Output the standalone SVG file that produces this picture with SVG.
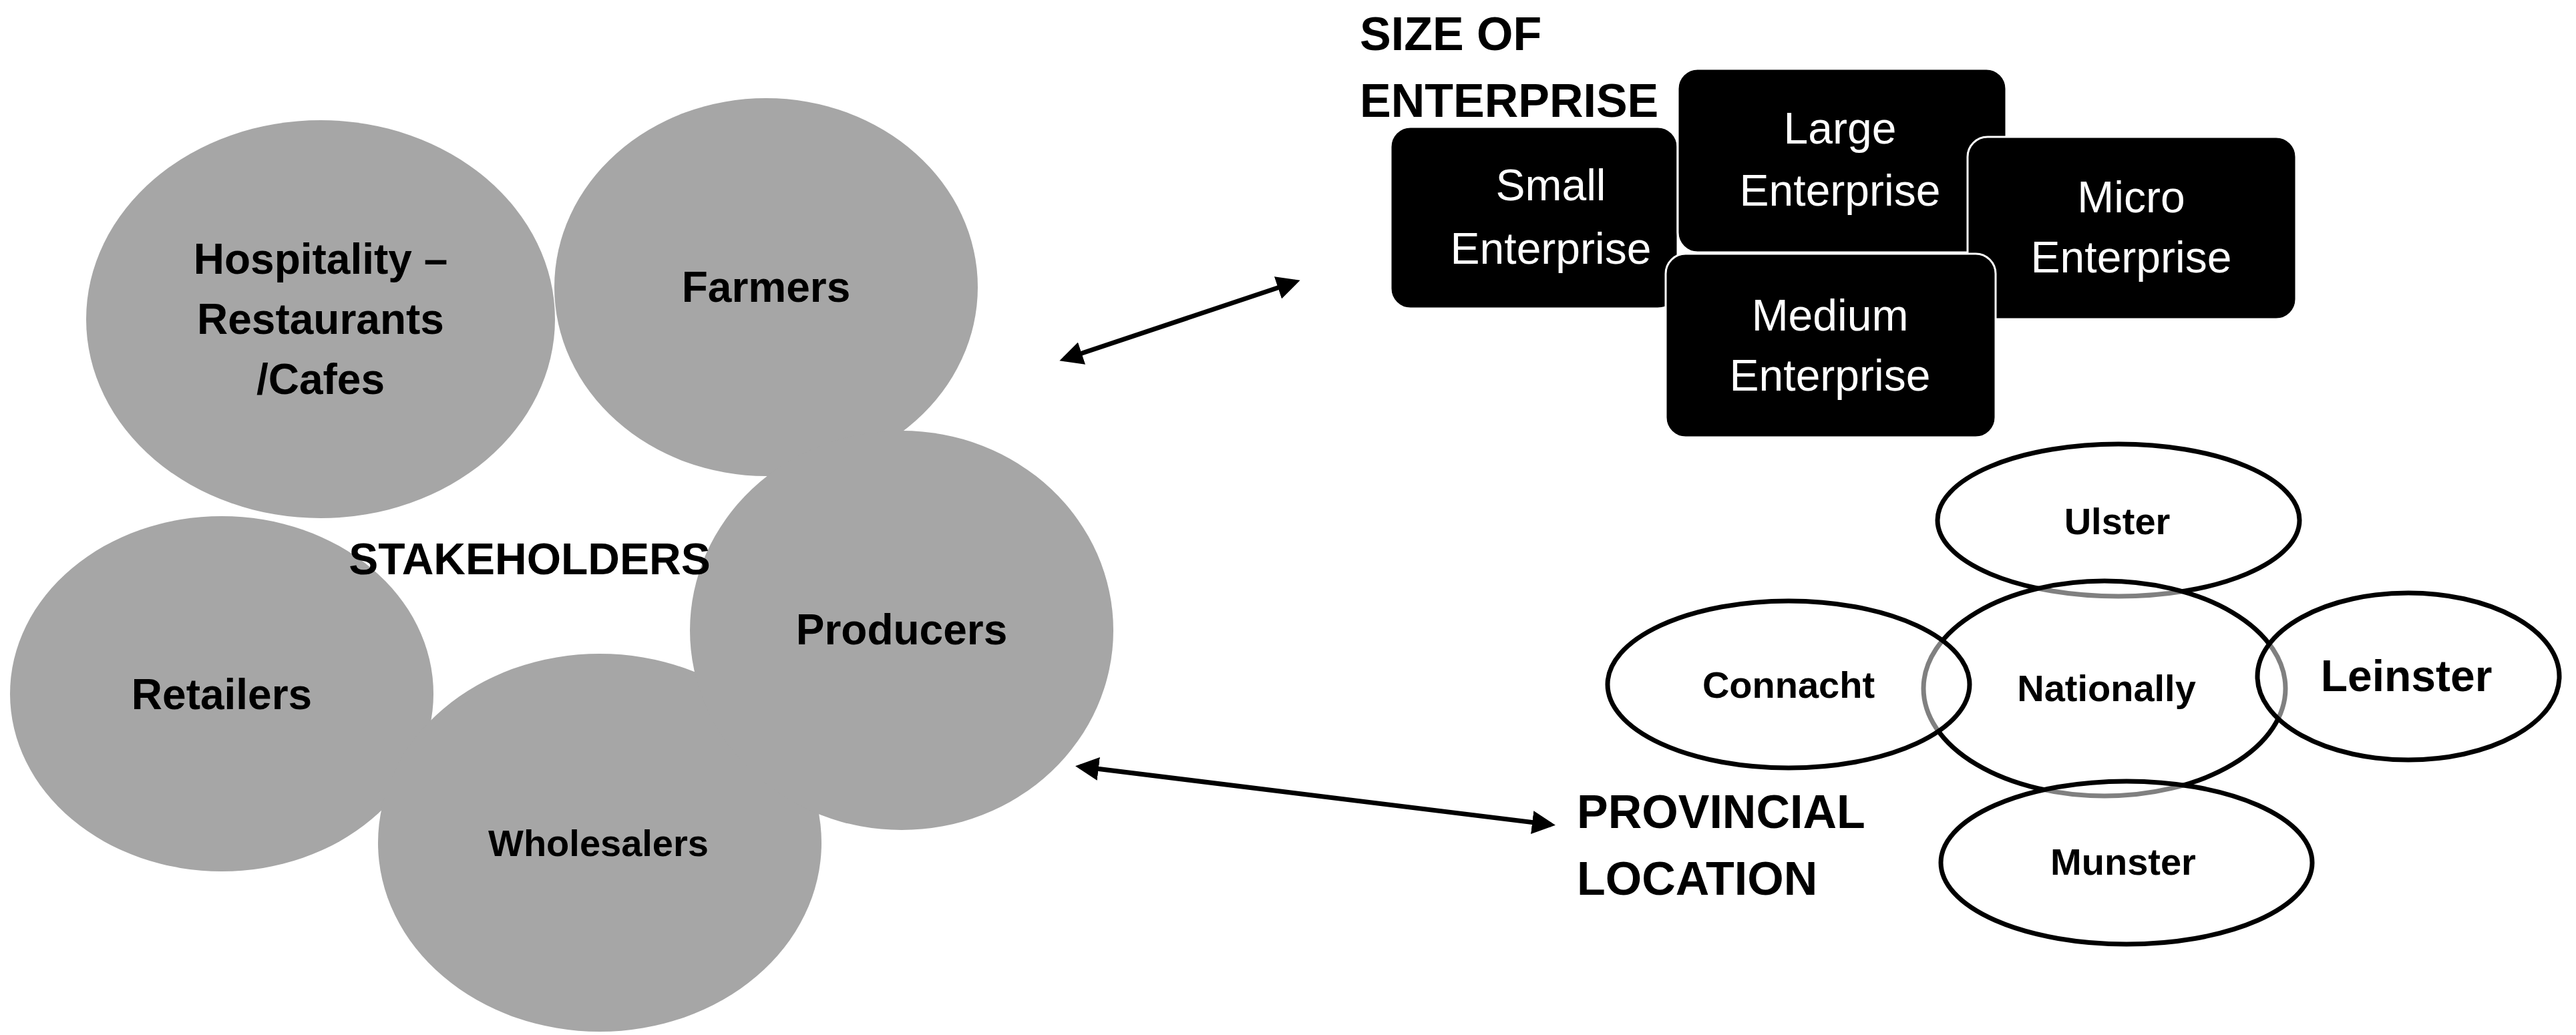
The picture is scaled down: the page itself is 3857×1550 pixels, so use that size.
<svg xmlns="http://www.w3.org/2000/svg" width="3857" height="1550" viewBox="0 0 3857 1550">
<style>
.g{fill:#a6a6a6}
.t{font-family:"Liberation Sans",Arial,sans-serif;font-weight:bold;fill:#000;text-anchor:middle}
.w{font-family:"Liberation Sans",Arial,sans-serif;fill:#fff;text-anchor:middle;font-size:66px}
.b{fill:#000;stroke:#fff;stroke-width:3}
.e{fill:#fff;fill-opacity:0.5;stroke:#000;stroke-width:7}
.h{font-family:"Liberation Sans",Arial,sans-serif;font-weight:bold;fill:#000;font-size:70px}
</style>
<defs>
<marker id="a" viewBox="0 0 10 10" refX="8" refY="5" markerWidth="5" markerHeight="5" orient="auto-start-reverse"><path d="M0,0 L10,5 L0,10 z" fill="#000"/></marker>
</defs>
<rect width="3857" height="1550" fill="#fff"/>
<g id="hospitality"><ellipse class="g" cx="480" cy="478" rx="351" ry="298"/><text class="t" font-size="64" x="480" y="410">Hospitality –</text><text class="t" font-size="64" x="480" y="500">Restaurants</text><text class="t" font-size="64" x="480" y="590">/Cafes</text></g>
<g id="farmers"><ellipse class="g" cx="1147" cy="430" rx="317" ry="283"/><text class="t" font-size="64" x="1147" y="452">Farmers</text></g>
<g id="retailers"><ellipse class="g" cx="332" cy="1039" rx="317" ry="266"/><text class="t" font-size="64" x="332" y="1062">Retailers</text></g>
<g id="wholesalers"><ellipse class="g" cx="898" cy="1262" rx="332" ry="283"/><text class="t" font-size="56" x="896" y="1282">Wholesalers</text></g>
<g id="producers"><ellipse class="g" cx="1350" cy="944" rx="317" ry="299"/><text class="t" font-size="64" x="1350" y="965">Producers</text></g>
<g id="stakeholders"><text class="t" font-size="66" x="793" y="860">STAKEHOLDERS</text></g>
<g id="connectors" stroke="#000" stroke-width="7" fill="none">
<line x1="1593" y1="538" x2="1940" y2="422" marker-start="url(#a)" marker-end="url(#a)"/>
<line x1="1617" y1="1148" x2="2322" y2="1235" marker-start="url(#a)" marker-end="url(#a)"/>
</g>
<g id="size-title"><text class="h" x="2036" y="75">SIZE OF</text><text class="h" x="2036" y="175">ENTERPRISE</text></g>
<g id="small"><rect class="b" x="2082" y="190" width="430" height="272" rx="30"/><text class="w" x="2322" y="300">Small</text><text class="w" x="2322" y="395">Enterprise</text></g>
<g id="large"><rect class="b" x="2512" y="103" width="492" height="275" rx="30"/><text class="w" x="2755" y="215">Large</text><text class="w" x="2755" y="308">Enterprise</text></g>
<g id="micro"><rect class="b" x="2946" y="205" width="492" height="273" rx="30"/><text class="w" x="3191" y="318">Micro</text><text class="w" x="3191" y="408">Enterprise</text></g>
<g id="medium"><rect class="b" x="2494" y="380" width="494" height="275" rx="30"/><text class="w" x="2740" y="495">Medium</text><text class="w" x="2740" y="585">Enterprise</text></g>
<g id="ulster"><ellipse class="e" cx="3172" cy="779" rx="271" ry="114"/><text class="t" font-size="56" x="3170" y="800">Ulster</text></g>
<g id="nationally"><ellipse class="e" cx="3151" cy="1031" rx="271" ry="161"/><text class="t" font-size="56" x="3154" y="1050">Nationally</text></g>
<g id="connacht"><ellipse class="e" cx="2678" cy="1025" rx="271" ry="125"/><text class="t" font-size="56" x="2678" y="1045">Connacht</text></g>
<g id="leinster"><ellipse class="e" cx="3606" cy="1013" rx="226" ry="125"/><text class="t" font-size="66" x="3603" y="1035">Leinster</text></g>
<g id="munster"><ellipse class="e" cx="3184" cy="1292" rx="278" ry="122"/><text class="t" font-size="56" x="3179" y="1310">Munster</text></g>
<g id="prov-title"><text class="h" x="2361" y="1240" font-size="74">PROVINCIAL</text><text class="h" x="2361" y="1340" font-size="74">LOCATION</text></g>
</svg>
